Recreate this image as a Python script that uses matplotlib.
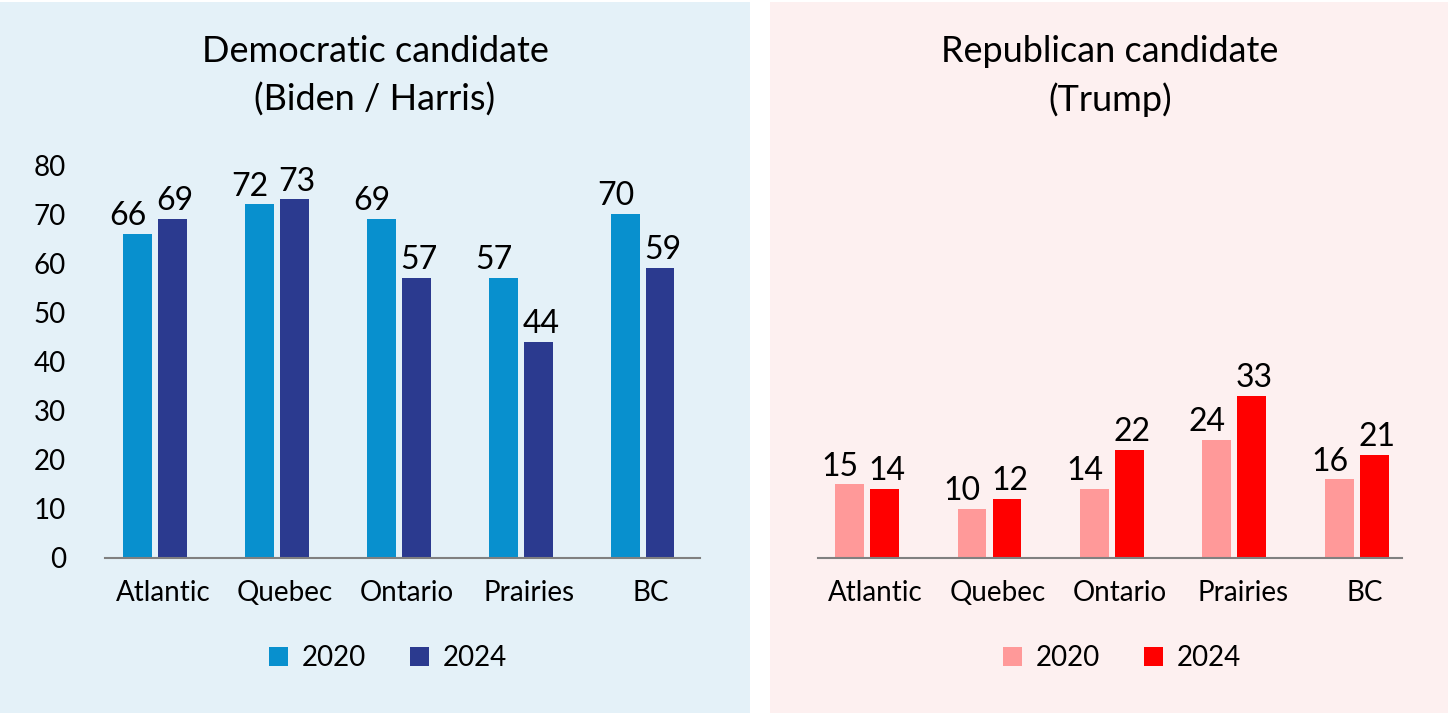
import matplotlib
matplotlib.use("Agg")
import matplotlib.pyplot as plt
import matplotlib.transforms as mtransforms
from matplotlib.patches import Rectangle, Patch
import numpy as np

plt.rcParams['font.family'] = ['Lato', 'DejaVu Sans']

regions = ["Atlantic", "Quebec", "Ontario", "Prairies", "BC"]
dem_2020 = [66, 72, 69, 57, 70]
dem_2024 = [69, 73, 57, 44, 59]
rep_2020 = [15, 10, 14, 24, 16]
rep_2024 = [14, 12, 22, 33, 21]
years = ["2020", "2024"]

W, H = 1450, 713
fig = plt.figure(figsize=(W / 100, H / 100), dpi=100)
fig.patch.set_facecolor("white")

# background panels
fig.patches.append(Rectangle((0, 0), 750 / W, 711 / H, transform=fig.transFigure,
                             facecolor="#E4F1F8", edgecolor="none", zorder=-10))
fig.patches.append(Rectangle((770 / W, 0), 678 / W, 711 / H, transform=fig.transFigure,
                             facecolor="#FDF0F0", edgecolor="none", zorder=-10))

bottom = 1 - 558 / H
top = 1 - 165 / H
axL = fig.add_axes([105 / W, bottom, (700 - 105) / W, top - bottom])
axR = fig.add_axes([818 / W, bottom, (1402 - 818) / W, top - bottom])

x = np.arange(len(regions))
bw = 0.235
off = 0.143


def draw(ax, v20, v24, c20, c24, show_y):
    ax.set_facecolor("none")
    b1 = ax.bar(x - off, v20, bw, color=c20, zorder=2)
    b2 = ax.bar(x + off, v24, bw, color=c24, zorder=2)
    for bars, vals, dx in ((b1, v20, -7), (b2, v24, 2)):
        for b, v in zip(bars, vals):
            ax.annotate(str(v), (b.get_x() + b.get_width() / 2, v),
                        xytext=(dx, 2), textcoords="offset points",
                        ha="center", va="bottom", fontsize=23, color="black")
    ax.set_ylim(0, 80)
    for s in ("top", "right", "left"):
        ax.spines[s].set_visible(False)
    ax.spines["bottom"].set_color("#808080")
    ax.spines["bottom"].set_linewidth(1.5)
    ax.set_xticks(x)
    ax.set_xticklabels(regions, fontsize=20)
    ax.tick_params(axis="x", length=0, pad=16)
    shift = mtransforms.ScaledTranslation(6 / 72, 0, fig.dpi_scale_trans)
    for lab in ax.get_xticklabels():
        lab.set_transform(lab.get_transform() + shift)
    if show_y:
        ax.set_yticks(range(0, 81, 10))
        ax.tick_params(axis="y", length=0, labelsize=20, pad=28)
    else:
        ax.set_yticks([])


draw(axL, dem_2020, dem_2024, "#0890CE", "#2B3A8F", True)
axL.set_xlim(-0.41, 4.47)
draw(axR, rep_2020, rep_2024, "#FF9999", "#FF0000", False)
axR.set_xlim(-0.40, 4.37)

fig.text(375 / W, 1 - 51 / H, "Democratic candidate", ha="center", va="center", fontsize=26)
fig.text(375 / W, 1 - 100 / H, "(Biden / Harris)", ha="center", va="center", fontsize=26)
fig.text(1110 / W, 1 - 51 / H, "Republican candidate", ha="center", va="center", fontsize=26)
fig.text(1110 / W, 1 - 100 / H, "(Trump)", ha="center", va="center", fontsize=26)

for cx, cols in ((388, ("#0890CE", "#2B3A8F")), (1122, ("#FF9999", "#FF0000"))):
    handles = [Patch(facecolor=c, edgecolor="none") for c in cols]
    fig.legend(handles, years, loc="center", bbox_to_anchor=(cx / W, 1 - 658 / H),
               ncol=2, frameon=False, fontsize=20, handlelength=0.68, handleheight=0.68,
               handletextpad=0.5, columnspacing=1.6)

fig.savefig("out.png", dpi=100)
